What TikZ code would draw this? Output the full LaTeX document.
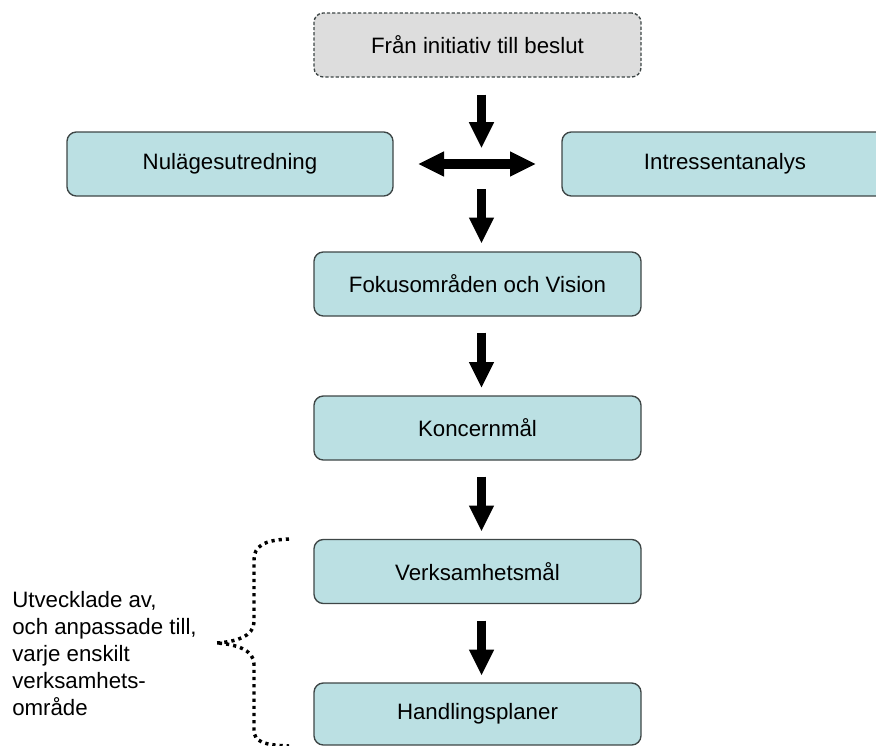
\documentclass[tikz,border=0pt]{standalone}
\usepackage{fontspec}
\setmainfont{Liberation Sans}
\usetikzlibrary{arrows.meta}

\definecolor{boxfill}{RGB}{187,224,227}
\definecolor{boxline}{RGB}{62,70,70}
\definecolor{startfill}{RGB}{221,221,221}

\begin{document}
\begin{tikzpicture}[x=0.75pt,y=0.75pt,yscale=-1,xscale=1,
  box/.style={draw=boxline, line width=1pt, fill=boxfill, rounded corners=7pt,
    minimum width=245.25pt, minimum height=48pt, inner sep=0pt,
    font=\fontsize{16.7}{20.25}\selectfont},
  startbox/.style={box, fill=startfill, dash pattern=on 2.4pt off 1.5pt},
  bigarrow/.style={line width=7pt, -{Triangle[length=19pt,width=19pt,line width=0pt]}},
  dotbrace/.style={line width=2.6pt, dash pattern=on 2.4pt off 3pt},
]
%set diagram to the size of the page
\useasboundingbox (0,0) rectangle (876,746);
\clip (0,0) rectangle (876,746);

%Shape: Rounded Rect (dashed)
\node[startbox] (start) at (477.5,45) {Från initiativ till beslut};
%Shape: Rounded Rect
\node[box, minimum width=244.5pt] (nul) at (230,164) {Nulägesutredning};
%Shape: Rounded Rect
\node[box, minimum width=244.5pt] (intr) at (725,164) {Intressentanalys};
%Shape: Rounded Rect
\node[box] (fokus) at (477.5,284) {Fokusområden och Vision};
%Shape: Rounded Rect
\node[box] (koncern) at (477.5,428) {Koncernmål};
%Shape: Rounded Rect
\node[box] (verks) at (477.5,571.5) {Verksamhetsmål};
%Shape: Rounded Rect
\node[box, minimum height=46.5pt] (handl) at (477.5,714) {Handlingsplaner};

% crossing point of the arrows
\coordinate (hub) at (481.5,165);

%Straight Lines (block arrows)
\draw[bigarrow, shorten <=12.7pt, shorten >=13.1pt] (start.south -| hub) -- (hub);
\draw[bigarrow, {Triangle[length=19pt,width=19pt,line width=0pt]}-{Triangle[length=19pt,width=19pt,line width=0pt]},
  shorten <=18.75pt, shorten >=19.5pt] (nul) -- (intr);
\draw[bigarrow, shorten <=18pt, shorten >=6.3pt] (hub) -- (fokus.north -| hub);
\draw[bigarrow, shorten <=12pt, shorten >=6pt] (fokus.south -| hub) -- (koncern.north -| hub);
\draw[bigarrow, shorten <=12pt, shorten >=6pt] (koncern.south -| hub) -- (verks.north -| hub);
\draw[bigarrow, shorten <=12.4pt, shorten >=5.5pt] (verks.south -| hub) -- (handl.north -| hub);

%Curve Lines (dotted brace)
\draw[dotbrace] (289,539) .. controls (264,540) and (254,546) .. (254,560) -- (254,622)
  .. controls (254,636) and (236,642) .. (216,643)
  .. controls (236,644) and (254,650) .. (254,664) -- (254,730)
  .. controls (254,742) and (264,745) .. (289,746);

% Text Node
\node[anchor=west, align=left, inner sep=0pt, font=\fontsize{16.7}{20.25}\selectfont] (note) at (12,654)
  {Utvecklade av,\\och anpassade till,\\varje enskilt\\verksamhets-\\område};

\end{tikzpicture}
\end{document}
